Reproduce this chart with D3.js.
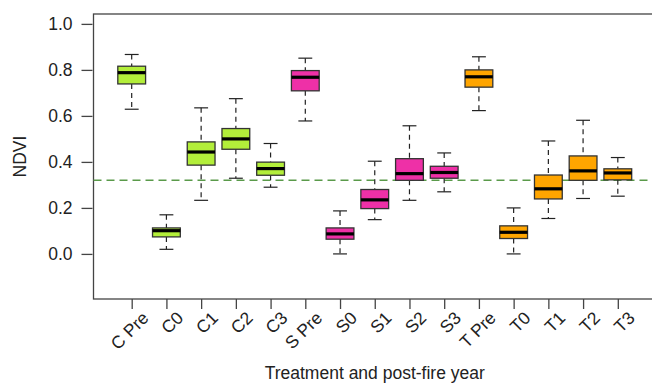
<!DOCTYPE html>
<html>
<head>
<meta charset="utf-8">
<script src="https://cdn.jsdelivr.net/npm/d3@7"></script>
<style>
  html,body{margin:0;padding:0;background:#fff;}
  svg{display:block;font-family:"Liberation Sans",Arial,sans-serif;}
</style>
</head>
<body>
<svg id="chart" width="652" height="384"></svg>
<script>
// ===== DATA =====
const categories = ["C Pre","C0","C1","C2","C3","S Pre","S0","S1","S2","S3","T Pre","T0","T1","T2","T3"];
const groups     = ["C","C","C","C","C","S","S","S","S","S","T","T","T","T","T"];
const whiskerLow = [0.629,0.020,0.233,0.329,0.290,0.578,0.000,0.149,0.233,0.270,0.623,0.000,0.154,0.241,0.251];
const q1         = [0.739,0.074,0.386,0.455,0.342,0.709,0.064,0.197,0.320,0.329,0.725,0.067,0.239,0.320,0.322];
const medians    = [0.788,0.101,0.443,0.500,0.371,0.768,0.087,0.235,0.349,0.354,0.770,0.094,0.283,0.361,0.352];
const q3         = [0.816,0.113,0.487,0.545,0.399,0.797,0.113,0.280,0.414,0.381,0.800,0.122,0.343,0.426,0.370];
const whiskerHigh= [0.867,0.170,0.635,0.675,0.480,0.851,0.187,0.403,0.557,0.439,0.857,0.200,0.491,0.581,0.419];
const yTicks = [0.0,0.2,0.4,0.6,0.8,1.0];
const refLine = 0.32;

const groupColor = {C:"#b3ee3a", S:"#ee30a7", T:"#ffa500"};

const data = categories.map((c,i)=>({name:c,i:i+1,g:groups[i],lo:whiskerLow[i],q1:q1[i],med:medians[i],q3:q3[i],hi:whiskerHigh[i]}));

// ===== LAYOUT =====
const svg = d3.select("#chart");
const mLeft=93.5, mRight=656, mTop=14, mBottom=299;
const fs = 17.5;

const x = d3.scaleLinear().domain([-0.1, categories.length+1.1]).range([mLeft,mRight]);
const y = d3.scaleLinear().domain([-0.196, 1.043]).range([mBottom,mTop]);
const step = x(2)-x(1);
const boxW = step*0.8;

// frame
svg.append("rect").attr("x",mLeft).attr("y",mTop).attr("width",mRight-mLeft).attr("height",mBottom-mTop)
  .attr("fill","none").attr("stroke","#444").attr("stroke-width",1.3);

// y axis
const yAxis = svg.append("g").attr("transform",`translate(${mLeft-1},0)`)
  .call(d3.axisLeft(y).tickValues(yTicks).tickFormat(d3.format(".1f")).tickSizeOuter(0).tickSize(11).tickPadding(9));
yAxis.select(".domain").remove();
yAxis.selectAll("line").attr("stroke","#444").attr("stroke-width",1.3);
yAxis.selectAll("text").attr("font-size",fs).attr("fill","#222").attr("font-family","Liberation Sans, Arial, sans-serif");

// x axis ticks
const xAxis = svg.append("g").attr("transform",`translate(0,${mBottom})`)
  .call(d3.axisBottom(x).tickValues(data.map(d=>d.i)).tickFormat("").tickSizeOuter(0).tickSize(10));
xAxis.select(".domain").remove();
xAxis.selectAll("line").attr("stroke","#444").attr("stroke-width",1.3);

// rotated category labels
svg.append("g").selectAll("text").data(data).join("text")
  .attr("transform",d=>`translate(${x(d.i)+18},${mBottom+20}) rotate(-45)`)
  .attr("text-anchor","end")
  .attr("font-size",fs).attr("fill","#222")
  .text(d=>d.name);

// reference line
svg.append("line").attr("x1",mLeft).attr("x2",mRight).attr("y1",y(refLine)).attr("y2",y(refLine))
  .attr("stroke","#5a9a4a").attr("stroke-width",1.6).attr("stroke-dasharray","8,5");

// boxes
const box = svg.append("g").selectAll("g").data(data).join("g");

box.append("line").attr("x1",d=>x(d.i)).attr("x2",d=>x(d.i)).attr("y1",d=>y(d.hi)).attr("y2",d=>y(d.q3))
  .attr("stroke","#222").attr("stroke-width",1.2).attr("stroke-dasharray","5,4");
box.append("line").attr("x1",d=>x(d.i)).attr("x2",d=>x(d.i)).attr("y1",d=>y(d.q1)).attr("y2",d=>y(d.lo))
  .attr("stroke","#222").attr("stroke-width",1.2).attr("stroke-dasharray","5,4");
box.append("line").attr("x1",d=>x(d.i)-boxW/4).attr("x2",d=>x(d.i)+boxW/4).attr("y1",d=>y(d.hi)).attr("y2",d=>y(d.hi))
  .attr("stroke","#222").attr("stroke-width",1.2);
box.append("line").attr("x1",d=>x(d.i)-boxW/4).attr("x2",d=>x(d.i)+boxW/4).attr("y1",d=>y(d.lo)).attr("y2",d=>y(d.lo))
  .attr("stroke","#222").attr("stroke-width",1.2);
box.append("rect").attr("x",d=>x(d.i)-boxW/2).attr("width",boxW)
  .attr("y",d=>y(d.q3)).attr("height",d=>y(d.q1)-y(d.q3))
  .attr("fill",d=>groupColor[d.g]).attr("stroke","#333").attr("stroke-width",1.3);
box.append("line").attr("x1",d=>x(d.i)-boxW/2).attr("x2",d=>x(d.i)+boxW/2).attr("y1",d=>y(d.med)).attr("y2",d=>y(d.med))
  .attr("stroke","#000").attr("stroke-width",3.2);

// axis titles
svg.append("text").attr("transform",`translate(26,${(mTop+mBottom)/2}) rotate(-90)`)
  .attr("text-anchor","middle").attr("font-size",fs).attr("fill","#222").text("NDVI");
svg.append("text").attr("x",(mLeft+mRight)/2).attr("y",379)
  .attr("text-anchor","middle").attr("font-size",fs).attr("fill","#222").text("Treatment and post-fire year");
</script>
</body>
</html>
